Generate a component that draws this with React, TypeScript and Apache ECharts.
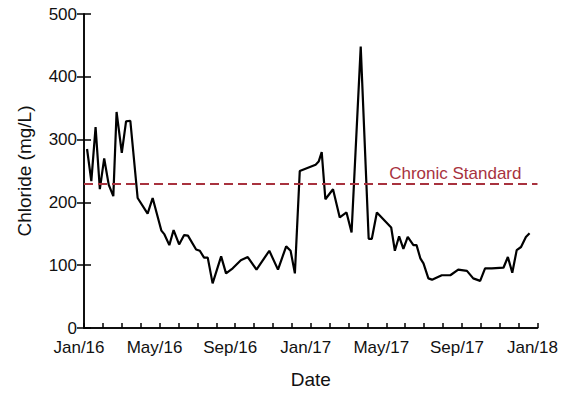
import React, { useEffect, useRef } from "react";
import * as echarts from "echarts";

const sampleDates = [
  "2016-01-06", "2016-01-13", "2016-01-20", "2016-01-27", "2016-02-03", "2016-02-10",
  "2016-02-17", "2016-02-22", "2016-03-01", "2016-03-08", "2016-03-15", "2016-03-27",
  "2016-04-12", "2016-04-20", "2016-05-04", "2016-05-09", "2016-05-17", "2016-05-24",
  "2016-06-02", "2016-06-10", "2016-06-16", "2016-06-29", "2016-07-05", "2016-07-12",
  "2016-07-18", "2016-07-26", "2016-08-09", "2016-08-17", "2016-08-28", "2016-09-10",
  "2016-09-21", "2016-10-05", "2016-10-26", "2016-11-09", "2016-11-22", "2016-11-29",
  "2016-12-06", "2016-12-14", "2017-01-09", "2017-01-14", "2017-01-19", "2017-01-25",
  "2017-02-06", "2017-02-16", "2017-02-26", "2017-03-06", "2017-03-21", "2017-04-03",
  "2017-04-08", "2017-04-16", "2017-05-09", "2017-05-15", "2017-05-22", "2017-05-29",
  "2017-06-05", "2017-06-14", "2017-06-19", "2017-06-25", "2017-06-30", "2017-07-08",
  "2017-07-14", "2017-07-30", "2017-08-13", "2017-08-26", "2017-09-09", "2017-09-19",
  "2017-09-30", "2017-10-08", "2017-10-19", "2017-11-07", "2017-11-14", "2017-11-21",
  "2017-11-28", "2017-12-05", "2017-12-13", "2017-12-19",
];

const chloride = [
  285, 234, 320, 221, 270, 228,
  210, 344, 279, 329, 330, 207,
  182, 207, 155, 149, 132, 156,
  133, 148, 147, 125, 123, 112,
  112, 71, 114, 87, 95, 108,
  113, 93, 123, 93, 130, 123,
  87, 250, 260, 265, 280, 205,
  221, 176, 184, 152, 448, 142,
  142, 184, 160, 123, 146, 126,
  145, 132, 132, 111, 103, 79,
  77, 84, 84, 93, 91, 79,
  75, 95, 95, 96, 113, 88,
  124, 129, 145, 151,
];

const tickLabels = ["Jan/16", "May/16", "Sep/16", "Jan/17", "May/17", "Sep/17", "Jan/18"];
const chronicStandard = 230;
const startYear = 2016;

function monthPosition(d: string): number {
  const [y, m, day] = d.split("-").map(Number);
  const daysInMonth = new Date(y, m, 0).getDate();
  return (y - startYear) * 12 + (m - 1) + (day - 1) / daysInMonth;
}

export default function App() {
  const ref = useRef<HTMLDivElement>(null);
  useEffect(() => {
    if (!ref.current) return;
    document.body.style.margin = "0";
    const chart = echarts.init(ref.current, null, { renderer: "svg" });
    const data = sampleDates.map((d, i) => [monthPosition(d), chloride[i]]);
    const font = "Liberation Sans, Arial, sans-serif";
    chart.setOption({
      animation: false,
      backgroundColor: "#ffffff",
      grid: { left: 84, right: 22, top: 14, bottom: 62 },
      xAxis: [
        {
          type: "value",
          min: 0,
          max: 24,
          interval: 1,
          name: "Date",
          nameLocation: "middle",
          nameGap: 42,
          nameTextStyle: { fontSize: 19, color: "#111", fontFamily: font },
          axisLine: { lineStyle: { color: "#000", width: 1.5 } },
          axisTick: { inside: true, length: 5, lineStyle: { color: "#000", width: 1.5 } },
          axisLabel: {
            fontSize: 17,
            color: "#111",
            fontFamily: font,
            margin: 11,
            padding: [0, 10, 0, 0],
            showMaxLabel: true,
            formatter: (v: number) => (v % 4 === 0 ? tickLabels[v / 4] : ""),
          },
          splitLine: { show: false },
        },
        {
          type: "value",
          min: 0,
          max: 24,
          position: "top",
          axisLine: { show: true, lineStyle: { color: "#000", width: 1.5 } },
          axisTick: { show: false },
          axisLabel: { show: false },
          splitLine: { show: false },
        },
      ],
      yAxis: [
        {
          type: "value",
          min: 0,
          max: 500,
          interval: 100,
          name: "Chloride (mg/L)",
          nameLocation: "middle",
          nameGap: 50,
          nameTextStyle: { fontSize: 19, color: "#111", fontFamily: font },
          axisLine: { show: true, lineStyle: { color: "#000", width: 1.5 } },
          axisTick: { inside: true, length: 7, lineStyle: { color: "#000", width: 1.5 } },
          axisLabel: { fontSize: 17, color: "#111", fontFamily: font, margin: 7 },
          splitLine: { show: false },
        },
        {
          type: "value",
          min: 0,
          max: 500,
          interval: 100,
          position: "right",
          axisLine: { show: true, lineStyle: { color: "#000", width: 1.5 } },
          axisTick: { inside: true, length: 7, lineStyle: { color: "#000", width: 1.5 } },
          axisLabel: { show: false },
          splitLine: { show: false },
        },
      ],
      series: [
        {
          type: "line",
          data,
          symbol: "none",
          lineStyle: { color: "#000", width: 2.2 },
          markLine: {
            symbol: "none",
            silent: true,
            data: [{ yAxis: chronicStandard }],
            lineStyle: { color: "#a8323e", width: 2, type: [9, 5] },
            label: {
              show: true,
              position: "insideEndTop",
              formatter: "Chronic Standard",
              color: "#a8323e",
              fontSize: 17,
              fontFamily: font,
              distance: [16, 2],
            },
          },
        },
      ],
    });
    return () => chart.dispose();
  }, []);
  return <div ref={ref} style={{ width: 561, height: 394 }} />;
}
